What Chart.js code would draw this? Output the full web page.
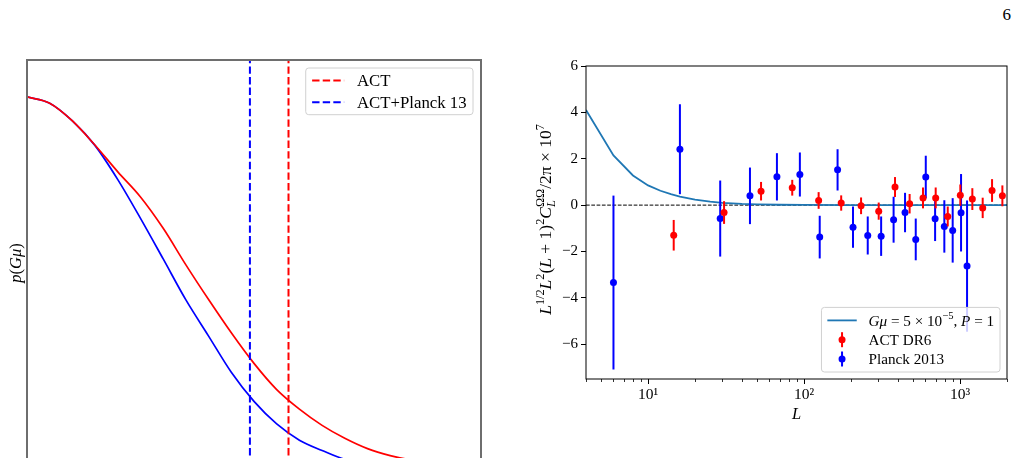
<!DOCTYPE html>
<html>
<head>
<meta charset="utf-8">
<script src="https://cdn.jsdelivr.net/npm/chart.js@4.4.1/dist/chart.umd.min.js"></script>
<style>
  html, body { margin: 0; padding: 0; background: #fff; overflow: hidden; width: 1021px; height: 458px; position: relative; }
  #leftChart { position: absolute; left: 0; top: 0; }
  #rightChart { position: absolute; left: 500px; top: 0; }
  #page { position: absolute; right: 10px; top: 5px; font: 17px "Liberation Serif", serif; color: #000; }
</style>
</head>
<body>
<div id="page">6</div>
<canvas id="leftChart" width="500" height="500" style="width:500px;height:500px"></canvas>
<canvas id="rightChart" width="521" height="458" style="width:521px;height:458px"></canvas>
<script>
// ---- left panel: posterior of G mu (arbitrary units, no ticks shown)
const gmu = [0, 0.05, 0.10, 0.15, 0.20, 0.25, 0.30, 0.35, 0.40, 0.45, 0.50, 0.55, 0.60, 0.65, 0.70, 0.75, 0.80, 0.85, 0.90, 0.95, 1.00];
const pAct = [1.0, 0.983, 0.935, 0.869, 0.797, 0.729, 0.644, 0.545, 0.451, 0.361, 0.278, 0.207, 0.154, 0.110, 0.075, 0.047, 0.028, 0.015, 0.008, 0.005, 0.003];
const pActPlanck = [1.0, 0.983, 0.935, 0.868, 0.776, 0.671, 0.561, 0.450, 0.352, 0.254, 0.175, 0.114, 0.070, 0.042, 0.018, 0.009, 0.005, 0.003, 0.002, 0.001, 0.0005];
const limitAct = 0.576;
const limitActPlanck = 0.491;

// ---- right panel: cross spectrum band powers
const planckL = [6, 16, 29, 45, 67, 94, 126, 164, 206, 256, 312, 375, 444, 520, 603, 692, 793, 897, 1015, 1109];
const planckVal = [-3.34, 2.41, -0.58, 0.40, 1.22, 1.32, -1.38, 1.52, -0.95, -1.31, -1.34, -0.63, -0.32, -1.48, 1.21, -0.59, -0.92, -1.09, -0.33, -2.63];
const planckErr = [3.75, 1.94, 1.64, 1.22, 1.02, 0.95, 0.92, 0.89, 0.89, 0.82, 0.85, 0.99, 0.85, 0.90, 0.92, 0.96, 1.13, 1.39, 1.67, 2.83];

const actL = [14.6, 30.7, 53, 84, 124, 173, 232, 301, 383, 475, 579, 698, 834, 1004, 1199, 1397, 1604, 1868];
const actVal = [-1.30, -0.32, 0.60, 0.75, 0.20, 0.09, -0.03, -0.26, 0.78, 0.06, 0.31, 0.31, -0.49, 0.43, 0.26, -0.12, 0.63, 0.40];
const actErr = [0.66, 0.49, 0.40, 0.34, 0.36, 0.33, 0.36, 0.37, 0.43, 0.42, 0.45, 0.45, 0.43, 0.46, 0.47, 0.44, 0.49, 0.45];

const theoryL = [4, 6, 8, 10, 12, 14, 16, 20, 25, 30, 40, 50, 70, 100, 200, 500, 1000, 2000];
const theoryVal = [4.10, 2.14, 1.28, 0.85, 0.62, 0.47, 0.37, 0.24, 0.15, 0.10, 0.05, 0.03, 0.015, 0.008, 0.003, 0.001, 0.0, 0.0];

const xRange = [4, 2000];
const yRange = [-7.5, 6];
const xTicks = [10, 100, 1000];
const xTickLabels = ['10¹', '10²', '10³'];
const yTicks = [-6, -4, -2, 0, 2, 4, 6];

const fam = '"Liberation Serif", "DejaVu Serif", serif';
Chart.defaults.font.family = fam;
Chart.defaults.color = '#000';

// text with italics / super- and subscripts
function richLayout(ctx, parts, size) {
  let x = 0, prevStart = 0;
  const items = [];
  parts.forEach(p => {
    const fs = (p.sup || p.sub) ? size * 0.7 : size;
    const font = (p.i ? 'italic ' : '') + fs + 'px ' + fam;
    ctx.font = font;
    const w = ctx.measureText(p.t).width;
    const start = p.stack ? prevStart : x;
    const dy = p.sup ? -size * 0.4 : (p.sub ? size * 0.25 : 0);
    items.push({ t: p.t, font: font, x: start, dy: dy });
    x = p.stack ? Math.max(x, start + w) : start + w;
    prevStart = start;
  });
  return { items: items, width: x };
}

function drawRich(ctx, parts, size, x, y, rot, align) {
  const lay = richLayout(ctx, parts, size);
  ctx.save();
  ctx.translate(x, y);
  if (rot) ctx.rotate(rot);
  const x0 = align === 'left' ? 0 : -lay.width / 2;
  ctx.fillStyle = '#000';
  ctx.textBaseline = 'alphabetic';
  ctx.textAlign = 'left';
  lay.items.forEach(it => {
    ctx.font = it.font;
    ctx.fillText(it.t, x0 + it.x, size * 0.34 + it.dy);
  });
  ctx.restore();
}

const framePlugin = {
  id: 'frame',
  afterDatasetsDraw(chart, args, opts) {
    const a = chart.chartArea, ctx = chart.ctx;
    ctx.save();
    ctx.strokeStyle = opts.color || '#000';
    ctx.lineWidth = opts.width || 1;
    ctx.strokeRect(a.left, a.top, a.right - a.left, a.bottom - a.top);
    ctx.restore();
  }
};

const errorBars = {
  id: 'errorBars',
  beforeDatasetDraw(chart, args) {
    const ds = chart.data.datasets[args.index];
    if (!ds.errors) return;
    const ctx = chart.ctx, xs = chart.scales.x, ys = chart.scales.y;
    ctx.save();
    ctx.strokeStyle = ds.backgroundColor;
    ctx.lineWidth = 2;
    ds.data.forEach((p, i) => {
      const px = xs.getPixelForValue(p.x);
      ctx.beginPath();
      ctx.moveTo(px, ys.getPixelForValue(p.y - ds.errors[i]));
      ctx.lineTo(px, ys.getPixelForValue(p.y + ds.errors[i]));
      ctx.stroke();
    });
    ctx.restore();
  }
};

const minorTicks = {
  id: 'minorTicks',
  afterDraw(chart, args, opts) {
    if (!opts.enabled) return;
    const xs = chart.scales.x, a = chart.chartArea, ctx = chart.ctx;
    ctx.save();
    ctx.strokeStyle = '#000';
    ctx.lineWidth = 0.8;
    for (let e = 0; e <= 3; e++) {
      for (let m = 2; m <= 9; m++) {
        const v = m * Math.pow(10, e);
        if (v < xs.min || v > xs.max) continue;
        const px = Math.round(xs.getPixelForValue(v)) + 0.5;
        ctx.beginPath();
        ctx.moveTo(px, a.bottom);
        ctx.lineTo(px, a.bottom + 3);
        ctx.stroke();
      }
    }
    ctx.restore();
  }
};

const richTitles = {
  id: 'richTitles',
  afterDraw(chart, args, opts) {
    (opts.items || []).forEach(t => {
      const a = chart.chartArea;
      drawRich(chart.ctx, t.parts, t.size, a.left + t.dx, (a.top + a.bottom) / 2 + (t.dy || 0), -Math.PI / 2, 'center');
    });
  }
};

const mplLegend = {
  id: 'mplLegend',
  afterDraw(chart, args, opts) {
    const items = chart.data.datasets.filter(d => d.legendParts);
    if (!items.length) return;
    const ctx = chart.ctx, a = chart.chartArea, fs = opts.fs, ts = opts.textSize;
    let tw = 0;
    items.forEach(d => { tw = Math.max(tw, richLayout(ctx, d.legendParts, ts).width); });
    const w = fs * 0.4 + fs * 2 + fs * 0.8 + tw + fs * 0.4;
    const h = (items.length - 1) * opts.rowGap + 2 * opts.padV;
    const bx = a.right - opts.margin - w;
    const by = opts.corner === 'top' ? a.top + opts.margin : a.bottom - opts.margin - h;
    ctx.save();
    ctx.beginPath();
    ctx.roundRect(bx, by, w, h, 3);
    ctx.fillStyle = 'rgba(255,255,255,0.8)';
    ctx.fill();
    ctx.strokeStyle = '#d0d0d0';
    ctx.lineWidth = 1;
    ctx.stroke();
    items.forEach((d, i) => {
      const cy = by + opts.padV + i * opts.rowGap;
      const hx = bx + fs * 0.4;
      if (d.legendKind === 'errbar') {
        const cx = hx + fs;
        ctx.strokeStyle = d.backgroundColor;
        ctx.lineWidth = 2;
        ctx.beginPath();
        ctx.moveTo(cx, cy - 7.5);
        ctx.lineTo(cx, cy + 7.5);
        ctx.stroke();
        ctx.fillStyle = d.backgroundColor;
        ctx.beginPath();
        ctx.arc(cx, cy, d.pointRadius, 0, Math.PI * 2);
        ctx.fill();
      } else {
        ctx.strokeStyle = d.borderColor;
        ctx.lineWidth = d.borderWidth;
        ctx.setLineDash(d.borderDash || []);
        ctx.beginPath();
        ctx.moveTo(hx, cy);
        ctx.lineTo(hx + fs * 2, cy);
        ctx.stroke();
        ctx.setLineDash([]);
      }
      drawRich(ctx, d.legendParts, ts, hx + fs * 2.8, cy, 0, 'left');
    });
    ctx.restore();
  }
};

function pts(xs, ys) {
  return xs.map((x, i) => ({ x: x, y: ys[i] }));
}

// ---- left chart
new Chart(document.getElementById('leftChart').getContext('2d'), {
  type: 'line',
  data: {
    datasets: [
      {
        label: 'ACT',
        data: [{ x: limitAct, y: 0 }, { x: limitAct, y: 1.1 }],
        borderColor: '#ff0000', borderWidth: 2, borderDash: [7.4, 3.2],
        pointRadius: 0, legendParts: [{ t: 'ACT' }]
      },
      {
        label: 'ACT+Planck 13',
        data: [{ x: limitActPlanck, y: 0 }, { x: limitActPlanck, y: 1.1 }],
        borderColor: '#0000ff', borderWidth: 2, borderDash: [7.4, 3.2],
        pointRadius: 0, legendParts: [{ t: 'ACT+Planck 13' }]
      },
      {
        label: 'ACT posterior',
        data: pts(gmu, pAct),
        borderColor: '#ff0000', borderWidth: 1.7, pointRadius: 0,
        cubicInterpolationMode: 'monotone'
      },
      {
        label: 'ACT+Planck posterior',
        data: pts(gmu, pActPlanck),
        borderColor: '#0000ff', borderWidth: 1.7, pointRadius: 0,
        cubicInterpolationMode: 'monotone'
      }
    ]
  },
  options: {
    responsive: false,
    animation: false,
    events: [],
    layout: { padding: { left: 27, top: 60, right: 19, bottom: 34 } },
    scales: {
      x: { type: 'linear', min: 0, max: 1, display: false },
      y: { type: 'linear', min: 0, max: 1.1, display: false }
    },
    plugins: {
      legend: { display: false },
      tooltip: { enabled: false },
      frame: { color: '#6e6e6e', width: 2 },
      mplLegend: { fs: 16, textSize: 16.8, rowGap: 21.7, padV: 12.5, margin: 8, corner: 'top' },
      richTitles: { items: [{ parts: [{ t: 'p', i: 1 }, { t: '(' }, { t: 'G', i: 1 }, { t: 'μ', i: 1 }, { t: ')' }], size: 16.5, dx: -12 }] }
    }
  },
  plugins: [framePlugin, mplLegend, richTitles]
});

// ---- right chart
new Chart(document.getElementById('rightChart').getContext('2d'), {
  type: 'scatter',
  data: {
    datasets: [
      {
        label: 'Gμ = 5 × 10⁻⁵, P = 1',
        data: pts(theoryL, theoryVal),
        showLine: true, borderColor: '#1f77b4', borderWidth: 1.8, pointRadius: 0,
        order: 1,
        legendParts: [{ t: 'G', i: 1 }, { t: 'μ', i: 1 }, { t: ' = 5 × 10' }, { t: '−5', sup: 1 }, { t: ', ' }, { t: 'P', i: 1 }, { t: ' = 1' }]
      },
      {
        label: 'ACT DR6',
        data: pts(actL, actVal), errors: actErr,
        backgroundColor: '#ff0000', borderWidth: 0, pointRadius: 3.5,
        order: 0, legendKind: 'errbar', legendParts: [{ t: 'ACT DR6' }]
      },
      {
        label: 'Planck 2013',
        data: pts(planckL, planckVal), errors: planckErr,
        backgroundColor: '#0000ff', borderWidth: 0, pointRadius: 3.5,
        order: 0, legendKind: 'errbar', legendParts: [{ t: 'Planck 2013' }]
      },
      {
        label: 'zero',
        data: [{ x: xRange[0], y: 0 }, { x: xRange[1], y: 0 }],
        showLine: true, borderColor: '#000', borderWidth: 1, borderDash: [3.7, 1.6],
        pointRadius: 0, order: 2
      }
    ]
  },
  options: {
    responsive: false,
    animation: false,
    events: [],
    layout: { padding: { left: 0, top: 66, right: 14, bottom: 30 } },
    scales: {
      x: {
        type: 'logarithmic', min: xRange[0], max: xRange[1],
        afterBuildTicks: s => { s.ticks = xTicks.map(v => ({ value: v, major: true })); },
        afterFit: s => { s.height = 49; },
        ticks: {
          font: { size: 15.5 }, padding: 2, maxRotation: 0, autoSkip: false,
          callback: v => xTickLabels[xTicks.indexOf(v)]
        },
        grid: { drawOnChartArea: false, drawTicks: true, tickLength: 5, tickColor: '#000', tickWidth: 1 },
        border: { display: false },
        title: { display: true, text: 'L', font: { size: 16.5, style: 'italic' }, padding: { top: 0, bottom: 3 } }
      },
      y: {
        type: 'linear', min: yRange[0], max: yRange[1],
        afterBuildTicks: s => { s.ticks = yTicks.map(v => ({ value: v })); },
        afterFit: s => { s.width = 86; },
        ticks: {
          font: { size: 15 }, padding: 3,
          callback: v => (v < 0 ? '−' + Math.abs(v) : String(v))
        },
        grid: { drawOnChartArea: false, drawTicks: true, tickLength: 5, tickColor: '#000', tickWidth: 1 },
        border: { display: false }
      }
    },
    plugins: {
      legend: { display: false },
      tooltip: { enabled: false },
      frame: { color: '#000', width: 1 },
      minorTicks: { enabled: true },
      mplLegend: { fs: 14.7, textSize: 15.2, rowGap: 19.3, padV: 13, margin: 7, corner: 'bottom' },
      richTitles: {
        items: [{
          parts: [
            { t: 'L', i: 1 }, { t: '1/2', sup: 1 }, { t: 'L', i: 1 }, { t: '2', sup: 1 }, { t: '(' }, { t: 'L', i: 1 },
            { t: ' + 1)' }, { t: '2', sup: 1 }, { t: 'C', i: 1 }, { t: 'L', i: 1, sub: 1 }, { t: 'ΩΩ', sup: 1, stack: 1 },
            { t: '/2π × 10' }, { t: '7', sup: 1 }
          ],
          size: 17.5, dx: -41, dy: -3
        }]
      }
    }
  },
  plugins: [framePlugin, errorBars, minorTicks, mplLegend, richTitles]
});
</script>
</body>
</html>
